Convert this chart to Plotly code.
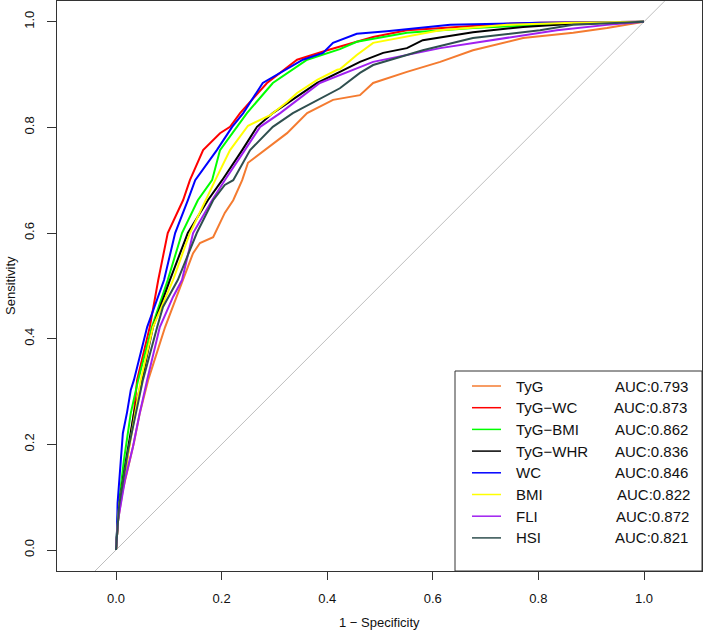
import plotly.graph_objects as go

# ---------------- data ----------------
names = ["TyG", "TyG−WC", "TyG−BMI", "TyG−WHR", "WC", "BMI", "FLI", "HSI"]
auc_labels = ["AUC:0.793", "AUC:0.873", "AUC:0.862", "AUC:0.836",
              "AUC:0.846", "AUC:0.822", "AUC:0.872", "AUC:0.821"]
colors = ["#F47B30", "#FF0000", "#00FF00", "#000000",
          "#0000FF", "#FFFF00", "#A020F0", "#2F4F4F"]

tyg_fpr = [0, 0.004, 0.013, 0.034, 0.045, 0.061, 0.093, 0.127, 0.146, 0.159, 0.184, 0.206,
           0.222, 0.239, 0.250, 0.324, 0.362, 0.411, 0.462, 0.487, 0.551, 0.614, 0.676,
           0.771, 0.866, 0.930, 0.992, 1.0]
tyg_tpr = [0, 0.057, 0.114, 0.203, 0.259, 0.322, 0.422, 0.511, 0.562, 0.581, 0.592, 0.638,
           0.662, 0.700, 0.733, 0.789, 0.827, 0.852, 0.861, 0.884, 0.905, 0.924, 0.946,
           0.969, 0.979, 0.988, 0.998, 1.0]

tygwc_fpr = [0, 0.004, 0.021, 0.034, 0.040, 0.064, 0.080, 0.098, 0.127, 0.140, 0.165, 0.197,
             0.216, 0.235, 0.286, 0.343, 0.400, 0.487, 0.551, 0.741, 0.803, 1.0]
tygwc_tpr = [0, 0.070, 0.170, 0.259, 0.322, 0.422, 0.511, 0.600, 0.662, 0.700, 0.757, 0.789,
             0.801, 0.827, 0.884, 0.928, 0.946, 0.971, 0.984, 0.996, 0.998, 1.0]

tygbmi_fpr = [0, 0.004, 0.015, 0.028, 0.042, 0.068, 0.098, 0.125, 0.155, 0.182, 0.197, 0.229,
              0.248, 0.297, 0.362, 0.424, 0.456, 0.551, 0.676, 0.803, 0.992, 1.0]
tygbmi_tpr = [0, 0.076, 0.170, 0.259, 0.322, 0.422, 0.511, 0.600, 0.662, 0.700, 0.757, 0.801,
              0.827, 0.884, 0.928, 0.948, 0.962, 0.979, 0.988, 0.994, 1.0, 1.0]

tygwhr_fpr = [0, 0.006, 0.019, 0.034, 0.049, 0.070, 0.102, 0.136, 0.174, 0.201, 0.239, 0.267,
              0.297, 0.381, 0.424, 0.462, 0.506, 0.551, 0.581, 0.676, 0.771, 0.866, 1.0]
tygwhr_tpr = [0, 0.085, 0.170, 0.259, 0.322, 0.422, 0.511, 0.600, 0.662, 0.700, 0.757, 0.801,
              0.827, 0.884, 0.905, 0.924, 0.941, 0.950, 0.965, 0.980, 0.990, 0.996, 1.0]

wc_fpr = [0, 0.002, 0.003, 0.006, 0.013, 0.021, 0.028, 0.034, 0.059, 0.091, 0.112, 0.136,
          0.150, 0.191, 0.220, 0.241, 0.278, 0.354, 0.392, 0.411, 0.456, 0.513, 0.633, 0.803, 1.0]
wc_tpr = [0, 0.038, 0.089, 0.133, 0.221, 0.261, 0.303, 0.322, 0.422, 0.511, 0.600, 0.662,
          0.700, 0.757, 0.801, 0.827, 0.884, 0.928, 0.941, 0.960, 0.977, 0.982, 0.994, 0.998, 1.0]

bmi_fpr = [0, 0.006, 0.021, 0.036, 0.047, 0.070, 0.108, 0.140, 0.169, 0.188, 0.216, 0.250,
           0.292, 0.324, 0.343, 0.381, 0.419, 0.424, 0.456, 0.487, 0.614, 0.741, 0.866, 1.0]
bmi_tpr = [0, 0.085, 0.170, 0.259, 0.322, 0.422, 0.511, 0.600, 0.662, 0.700, 0.757, 0.803,
           0.823, 0.848, 0.865, 0.890, 0.909, 0.910, 0.937, 0.960, 0.984, 0.994, 0.998, 1.0]

fli_fpr = [0, 0.004, 0.017, 0.032, 0.045, 0.059, 0.083, 0.108, 0.125, 0.146, 0.182, 0.206,
           0.244, 0.273, 0.311, 0.386, 0.462, 0.487, 0.614, 0.741, 0.835, 0.930, 1.0]
fli_tpr = [0, 0.057, 0.133, 0.195, 0.259, 0.322, 0.422, 0.479, 0.511, 0.600, 0.662, 0.700,
           0.757, 0.801, 0.827, 0.884, 0.914, 0.924, 0.950, 0.969, 0.984, 0.994, 1.0]

hsi_fpr = [0, 0.006, 0.023, 0.038, 0.051, 0.078, 0.089, 0.117, 0.153, 0.184, 0.206, 0.222,
           0.254, 0.297, 0.335, 0.424, 0.462, 0.487, 0.581, 0.676, 0.803, 0.866, 0.960, 1.0]
hsi_tpr = [0, 0.085, 0.189, 0.259, 0.322, 0.422, 0.460, 0.511, 0.600, 0.662, 0.691, 0.700,
           0.757, 0.801, 0.827, 0.874, 0.903, 0.918, 0.946, 0.969, 0.984, 0.994, 0.998, 1.0]

fprs = [tyg_fpr, tygwc_fpr, tygbmi_fpr, tygwhr_fpr, wc_fpr, bmi_fpr, fli_fpr, hsi_fpr]
tprs = [tyg_tpr, tygwc_tpr, tygbmi_tpr, tygwhr_tpr, wc_tpr, bmi_tpr, fli_tpr, hsi_tpr]

tick_vals = [0.0, 0.2, 0.4, 0.6, 0.8, 1.0]
tick_text = ["0.0", "0.2", "0.4", "0.6", "0.8", "1.0"]

# ---------------- figure ----------------
FONT = "Liberation Sans, Arial, Helvetica, sans-serif"
AX = "#333333"
W, H = 703, 631
ML, MR, MT, MB = 57, 1, 1, 60

fig = go.Figure()

# reference diagonal (clipped by the plot area)
fig.add_trace(go.Scatter(x=[-0.2, 1.2], y=[-0.2, 1.2], mode="lines",
                         line=dict(color="#BEBEBE", width=1), hoverinfo="skip",
                         showlegend=False))

for nm, fx, ty, col in zip(names, fprs, tprs, colors):
    fig.add_trace(go.Scatter(x=fx, y=ty, mode="lines", name=nm,
                             line=dict(color=col, width=2), showlegend=False))

# ---------------- custom R-style legend ----------------
pw = W - ML - MR
ph = H - MT - MB
def px_x(px):
    return (px - ML) / pw
def px_y(py):
    return (H - MB - py) / ph

shapes = [dict(type="rect", xref="paper", yref="paper",
               x0=px_x(455), x1=1.0, y0=0.0, y1=px_y(371),
               line=dict(color=AX, width=1), fillcolor="rgba(0,0,0,0)")]
annotations = []
auc_x = [615, 614, 615, 615, 615, 617, 616, 615]
for i, (nm, auc, col) in enumerate(zip(names, auc_labels, colors)):
    py = 386 + i * 21.7
    shapes.append(dict(type="line", xref="paper", yref="paper",
                       x0=px_x(472), x1=px_x(501), y0=px_y(py), y1=px_y(py),
                       line=dict(color=col, width=1.5)))
    annotations.append(dict(xref="paper", yref="paper", x=px_x(514), y=px_y(py),
                            text=nm, showarrow=False, xanchor="left", yanchor="middle",
                            font=dict(family=FONT, size=15, color="#111")))
    annotations.append(dict(xref="paper", yref="paper", x=px_x(auc_x[i] - 2), y=px_y(py),
                            text=auc, showarrow=False, xanchor="left", yanchor="middle",
                            font=dict(family=FONT, size=15, color="#111")))

# axis titles
annotations.append(dict(xref="paper", yref="paper", x=0.5, y=px_y(622),
                        text="1 − Specificity", showarrow=False,
                        xanchor="center", yanchor="middle",
                        font=dict(family=FONT, size=13, color="#111")))
annotations.append(dict(xref="paper", yref="paper", x=px_x(10), y=0.5,
                        text="Sensitivity", showarrow=False, textangle=-90,
                        xanchor="center", yanchor="middle",
                        font=dict(family=FONT, size=13, color="#111")))

x0 = (ML - 116) / 528.0
x1 = (W - MR - 116) / 528.0
y0 = (550 - (H - MB)) / 528.3
y1 = (550 - MT) / 528.3

fig.update_layout(
    width=W, height=H,
    margin=dict(l=ML, r=MR, t=MT, b=MB, pad=0),
    paper_bgcolor="white", plot_bgcolor="white",
    font=dict(family=FONT, size=13, color="#111"),
    shapes=shapes, annotations=annotations,
    showlegend=False,
    xaxis=dict(range=[x0, x1], tickvals=tick_vals, ticktext=tick_text,
               showgrid=False, zeroline=False, showline=True, mirror=True,
               linecolor=AX, linewidth=1, ticks="outside", ticklen=8,
               tickcolor=AX, tickwidth=1, ticklabelstandoff=7,
               tickfont=dict(family=FONT, size=13, color="#111")),
    yaxis=dict(range=[y0, y1], tickvals=tick_vals, ticktext=tick_text,
               showgrid=False, zeroline=False, showline=True, mirror=True,
               linecolor=AX, linewidth=1, ticks="outside", ticklen=9,
               tickcolor=AX, tickwidth=1, tickangle=-90, ticklabelstandoff=8,
               tickfont=dict(family=FONT, size=13, color="#111")),
)

fig.write_html("out.html", config={"displayModeBar": False},
               post_script="document.body.style.margin='0';"
                           "document.documentElement.style.overflow='hidden';")
